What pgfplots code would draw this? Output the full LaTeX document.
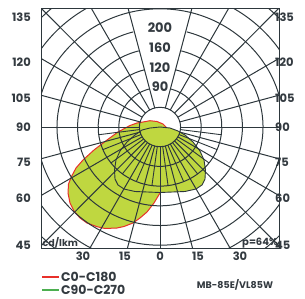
\documentclass[border=0pt]{standalone}
\usepackage{pgfplots}
\pgfplotsset{compat=1.18}
\usepackage{fontspec}
\setmainfont{Poppins}
\usetikzlibrary{calc}
\definecolor{gridc}{HTML}{2D373C}
\definecolor{limef}{HTML}{BFD740}
\definecolor{redc}{HTML}{E8302A}
\definecolor{greenc}{HTML}{4CAF50}
\definecolor{txt}{HTML}{333A40}
\begin{document}
\begin{tikzpicture}
\begin{axis}[
  x=1pt, y=1pt, xmin=-119, xmax=119, ymin=-121, ymax=119,
  axis line style={draw=gridc, line width=1pt},
  major tick length=0pt,
  /pgf/number format/assume math mode=true,
  xtick={-77,-35,0,38,80}, xticklabels={30,15,0,15,30},
  ytick={110,65,29,0,-35,-71,-118}, yticklabels={135,120,105,90,75,60,45},
  extra y ticks={110,65,29,0,-35,-71,-118},
  extra y tick labels={135,120,105,90,75,60,45},
  extra y tick style={yticklabel pos=right, yticklabel style={anchor=west, inner sep=0pt, xshift=6pt}},
  tick label style={font=\bfseries\fontsize{11.5}{11.5}\selectfont, text=txt},
  yticklabel style={inner sep=0pt, xshift=-10pt},
  xticklabel style={inner sep=0pt, yshift=-4pt},
  clip=true,
]
% C0-C180 (red)
\addplot[fill=limef, draw=redc, line width=1pt] coordinates {
(-17,5) (-10,6.3) (-3,5.5) (3,3) (7,-1) (10,-8) (12,-18) (11,-31) (8,-45) (4,-57)
(0,-66) (-6,-76) (-13,-85) (-20,-91) (-27,-96) (-36,-99.5) (-43,-101) (-55,-101.5)
(-63,-99.7) (-73,-96) (-80,-91) (-86,-84) (-90,-76) (-92,-66) (-91.5,-57) (-88.5,-49.5)
(-84,-41) (-77,-33) (-66,-23) (-53,-13) (-42,-5) (-30,1.5) (-23,4)
} -- cycle;
% C90-C270 (green)
\addplot[fill=limef, draw=none] coordinates {
(-18,-3) (-10,-1) (0,0) (10,-1) (18,-4) (25,-8) (33,-15) (40,-24) (44,-33) (45.5,-43)
(45,-52) (42,-58) (36,-62) (25,-64.5) (0,-65.5) (-25,-64.5) (-36,-62) (-42,-58)
(-45,-52) (-45.5,-43) (-44,-33) (-40,-24) (-33,-15) (-25,-8)
} -- cycle;
\addplot[draw=gridc, line width=0.9pt, forget plot] coordinates {
(-18,-3) (-10,-1) (0,0) (10,-1) (18,-4) (25,-8) (33,-15) (40,-24) (44,-33) (45.5,-43)
(45,-52) (42,-58) (36,-62) (25,-64.5) (0,-65.5) (-25,-64.5) (-36,-62) (-42,-58)
(-45,-52) (-45.5,-43) (-44,-33) (-40,-24) (-33,-15) (-25,-8)
} -- cycle;
% grid
\draw[gridc, line width=1pt] (axis cs:0,0) ellipse [x radius=20.6, y radius=19.7];
\pgfplotsinvokeforeach{6,7,8}{
  \draw[gridc, line width=1pt] (axis cs:0,0) ellipse [x radius={20.6*#1}, y radius={19.7*#1}];
}
\pgfplotsinvokeforeach{2,3,4,5}{
  \draw[gridc, line width=1pt] (axis cs:{20.6*#1*cos(105)},{19.7*#1*sin(105)}) arc [start angle=105, end angle=435, x radius={20.6*#1}, y radius={19.7*#1}];
}
\pgfplotsinvokeforeach{0,15,30,45,60,75,105,120,135,150,165,180,195,210,225,240,255,270,285,300,315,330,345}{
  \draw[gridc, line width=1pt] (axis cs:{20.6*cos(#1)},{19.7*sin(#1)}) -- (axis cs:{200*cos(#1)},{200*sin(#1)});
}
\pgfplotsinvokeforeach{187.5,202.5,217.5,232.5,247.5,262.5,277.5,292.5,307.5,322.5,337.5,352.5}{
  \draw[gridc, line width=0.9pt] (axis cs:{20.6*cos(#1)},{19.7*sin(#1)}) -- (axis cs:{61.8*cos(#1)},{59.1*sin(#1)});
}
\node[font=\bfseries\fontsize{13}{13}\selectfont, text=txt] at (axis cs:0,40) {90};
\node[font=\bfseries\fontsize{13}{13}\selectfont, text=txt] at (axis cs:0,59) {120};
\node[font=\bfseries\fontsize{13}{13}\selectfont, text=txt] at (axis cs:0,79) {160};
\node[font=\bfseries\fontsize{13}{13}\selectfont, text=txt] at (axis cs:0,99) {200};
\end{axis}
\coordinate (sw) at (current axis.south west);
\coordinate (ne) at (current axis.north east);
\coordinate (se) at (current axis.south east);
\node[anchor=base west, inner sep=0pt, font=\bfseries\fontsize{9.5}{9.5}\selectfont, text=txt] at ($(sw)+(1.5pt,2pt)$) {cd/lkm};
\node[anchor=base east, inner sep=0pt, font=\bfseries\fontsize{10}{10}\selectfont, text=txt] at ($(se)+(-1pt,2.5pt)$) {p=64\%};
\draw[redc, line width=2pt] ($(sw)+(1pt,-29pt)$) -- ++(17pt,0);
\node[anchor=west, inner sep=0pt, font=\bfseries\fontsize{12.5}{12.5}\selectfont, text=txt] at ($(sw)+(20pt,-29pt)$) {C0-C180};
\draw[greenc, line width=2pt] ($(sw)+(1pt,-42pt)$) -- ++(17pt,0);
\node[anchor=west, inner sep=0pt, font=\bfseries\fontsize{12.5}{12.5}\selectfont, text=txt] at ($(sw)+(20pt,-42pt)$) {C90-C270};
\node[anchor=center, inner sep=0pt, font=\bfseries\fontsize{9.5}{9.5}\selectfont, text=txt] at ($(sw)+(194pt,-37pt)$) {MB-85E/VL85W};
\pgfresetboundingbox
\path[use as bounding box] ($(sw)+(-41pt,-50pt)$) rectangle ($(ne)+(26pt,8pt)$);
\end{tikzpicture}
\end{document}
